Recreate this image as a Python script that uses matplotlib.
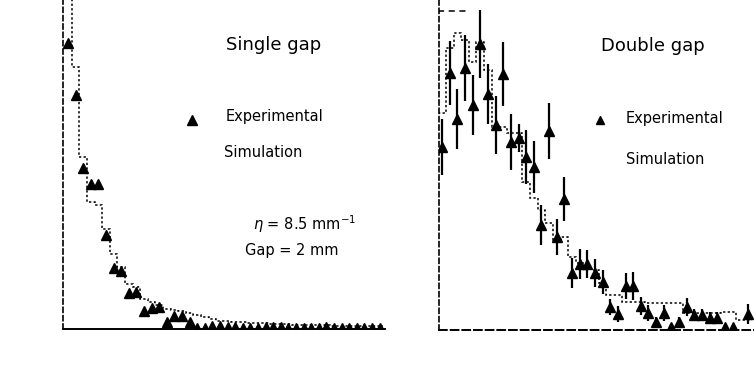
import numpy as np
import matplotlib
matplotlib.use("Agg")
import matplotlib.pyplot as plt

# ---------------- data (arbitrary count units, bin index on x) ----------------
single_exp = [286, 234, 161, 145, 145, 94, 61, 58, 36, 37, 18, 21, 22, 7, 13, 13, 7,
              1, 1, 3, 3, 2, 2, 1, 1, 1, 2, 2, 2, 1, 1, 1, 1, 1, 2, 1, 1, 1, 1, 1, 1, 1]
single_sim = [340, 262, 172, 127, 124, 100, 75, 62, 45, 42, 30, 27, 24, 20, 19, 18, 16,
              14, 12, 10, 8, 8, 7, 7, 6, 6, 6, 5, 5, 5, 4, 4, 4, 4, 4, 3, 3, 3, 3, 3, 3, 3]

double_exp = [183, 257, 211, 262, 225, 286, 236, 205, 256, 188, 192, 173, 163, 105, 199,
              93, 131, 57, 66, 66, 57, 48, 23, 16, 44, 44, 24, 17, 8, 17, 3, 8, 23, 15,
              15, 12, 12, 3, 3, np.nan, 16]
double_err = [28, 32, 30, 33, 30, 34, 30, 29, 32, 28, 14, 27, 26, 20, 28, 18, 22, 15,
              15, 14, 14, 12, 8, 8, 13, 14, 9, 8, 5, 8, 3, 5, 9, 6, 6, 6, 6, 2, 2, 0, 10]
double_sim = [217, 282, 297, 290, 268, 288, 260, 203, 203, 197, 197, 148, 132, 120, 107,
              90, 93, 73, 67, 63, 60, 47, 35, 35, 28, 28, 28, 27, 27, 27, 27, 27, 17, 17,
              17, 17, 17, 18, 18, 10, 10]
double_envelope = [319, 319, 319, 319]

W, H = 754, 365
fig = plt.figure(figsize=(W / 100, H / 100), dpi=100)
fig.patch.set_facecolor("white")

def px_axes(x0, x1, ybot, ytop):
    return fig.add_axes([x0 / W, 1 - ybot / H, (x1 - x0) / W, (ybot - ytop) / H])

def style(ax, bottom_dashed):
    for s in ("top", "right"):
        ax.spines[s].set_visible(False)
    ax.spines["left"].set_linestyle((0, (3, 2)))
    ax.spines["left"].set_linewidth(1.2)
    ax.spines["bottom"].set_linewidth(1.4)
    if bottom_dashed:
        ax.spines["bottom"].set_linestyle((0, (4, 2)))
    ax.set_xticks([])
    ax.set_yticks([])
    ax.set_facecolor("none")

# ---------------- left panel: single gap ----------------
axL = px_axes(63, 385, 329, 0)
n = len(single_sim)
edges = np.arange(n + 1) - 0.5
axL.stairs(single_sim, edges, baseline=None, color="black", lw=1.1,
           linestyle=(0, (1.5, 1.5)))
xi = np.arange(len(single_exp))
axL.plot(xi, single_exp, linestyle="none", marker="^", ms=7.5, color="black")
axL.set_xlim(-0.66, 41.7)
axL.set_ylim(0, 329)
style(axL, False)

axL.plot([(192 - 63) / 322], [(329 - 120) / 329], marker="^", ms=7, color="black",
         transform=axL.transAxes, clip_on=False)

def ftext(x, y, s, size):
    fig.text(x / W, 1 - y / H, s, fontsize=size, ha="left", va="center",
             family="DejaVu Sans", color="black")

ftext(226, 45, "Single gap", 13)
ftext(226, 116, "Experimental", 10.5)
ftext(224, 152, "Simulation", 10.5)
ftext(253, 224, "$\\eta$ = 8.5 mm$^{-1}$", 10.5)
ftext(245, 250, "Gap = 2 mm", 10.5)

# ---------------- right panel: double gap ----------------
axR = px_axes(439, 754, 330, 0)
n2 = len(double_sim)
edges2 = np.arange(n2 + 1) - 0.5
axR.stairs(double_sim, edges2, baseline=None, color="black", lw=1.1,
           linestyle=(0, (1.5, 1.5)))
axR.stairs(double_envelope, np.arange(len(double_envelope) + 1) - 0.5, baseline=None,
           color="black", lw=1.1, linestyle=(0, (4, 3)))
xj = np.arange(len(double_exp))
axR.errorbar(xj, double_exp, yerr=double_err, fmt="^", ms=6.5, color="black",
             elinewidth=1.6, capsize=0)
axR.set_xlim(-0.4, 40.8)
axR.set_ylim(0, 330)
style(axR, True)

axR.plot([(600 - 439) / 315], [(330 - 120) / 330], marker="^", ms=6, color="black",
         transform=axR.transAxes, clip_on=False)
ftext(601, 46, "Double gap", 13)
ftext(626, 119, "Experimental", 10.5)
ftext(626, 159, "Simulation", 10.5)

fig.savefig("out.png", dpi=100, facecolor="white")
